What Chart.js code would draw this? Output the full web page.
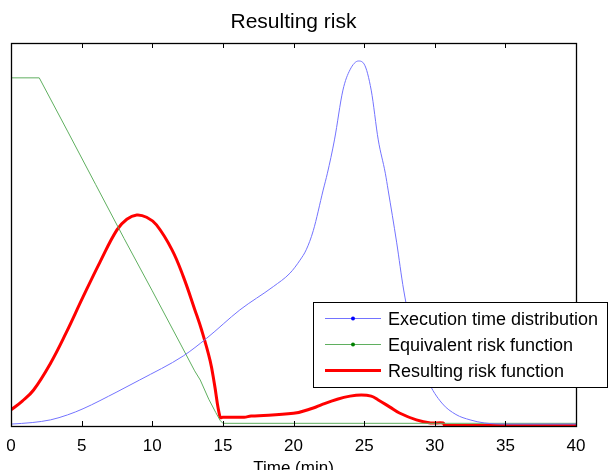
<!DOCTYPE html>
<html>
<head>
<meta charset="utf-8">
<script src="https://cdn.jsdelivr.net/npm/chart.js@4/dist/chart.umd.min.js"></script>
<style>
html, body { margin: 0; padding: 0; background: #fff; }
</style>
</head>
<body>
<canvas id="riskChart" width="609" height="470"></canvas>
<script>
// values (time in min, y on a 0..1 scale)
const blueTime = [0, 1.5, 2.8, 4, 5.1, 7.5, 9.1, 12.2, 13.85, 16.2, 18.57, 19.75, 20.46, 20.9, 21.4, 22.1, 22.4, 22.9, 23.5, 24, 24.6, 25, 25.5, 26, 26.5, 26.7, 27.3, 27.8, 28.5, 29.5, 30.5, 31.5, 32.5, 33.5, 35, 40]
const blueValues = [0.005, 0.009, 0.016, 0.029, 0.045, 0.089, 0.12, 0.183, 0.229, 0.303, 0.364, 0.399, 0.433, 0.46, 0.51, 0.616, 0.66, 0.747, 0.877, 0.93, 0.953, 0.945, 0.877, 0.747, 0.66, 0.616, 0.48, 0.355, 0.23, 0.12, 0.06, 0.03, 0.016, 0.008, 0.005, 0.005]

const greenTime = [0, 2, 4, 6, 8, 10, 12, 13, 13.4, 14, 14.5, 14.8, 15, 40]
const greenValues = [0.909, 0.909, 0.77, 0.63, 0.49, 0.353, 0.214, 0.144, 0.12, 0.07, 0.035, 0.015, 0.007, 0.007]

const redTime = [0, 0.8, 1.6, 2.8, 3.9, 5.1, 6.3, 7.5, 8.2, 8.9, 9.6, 10.3, 11.4, 12.2, 13, 13.5, 14.1, 14.4, 14.8, 15, 16.5, 17, 20, 21.4, 22, 23.1, 24, 24.8, 25.5, 26, 26.8, 27.5, 28.7, 29.7, 30.6, 30.7, 40]
const redValues = [0.042, 0.065, 0.094, 0.164, 0.243, 0.337, 0.428, 0.512, 0.540, 0.551, 0.545, 0.525, 0.46, 0.39, 0.305, 0.25, 0.17, 0.11, 0.023, 0.023, 0.023, 0.026, 0.033, 0.047, 0.056, 0.070, 0.078, 0.081, 0.078, 0.068, 0.05, 0.034, 0.016, 0.008, 0.008, 0.002, 0.002]

const xTicks = [0, 5, 10, 15, 20, 25, 30, 35, 40]

const toPoints = (xs, ys) => xs.map((x, i) => ({ x: x, y: ys[i] }))

const FONT = "'Liberation Sans', Arial, sans-serif"

// box around the plot with the small inward ticks
const axesBox = {
    id: 'axesBox',
    afterDatasetsDraw(chart) {
        const { ctx, chartArea: a, scales: { x } } = chart
        ctx.save()
        ctx.strokeStyle = '#000'
        ctx.lineWidth = 1.3
        ctx.strokeRect(a.left + 0.5, a.top + 0.5, a.right - a.left, a.bottom - a.top)
        ctx.lineWidth = 1
        xTicks.forEach(t => {
            const px = Math.round(x.getPixelForValue(t)) + 0.5
            ctx.beginPath()
            ctx.moveTo(px, a.top)
            ctx.lineTo(px, a.top + 5)
            ctx.moveTo(px, a.bottom)
            ctx.lineTo(px, a.bottom - 5)
            ctx.stroke()
        })
        ctx.restore()
    }
}

// matlab style legend box in the lower right corner
const boxLegend = {
    id: 'boxLegend',
    afterDraw(chart) {
        const { ctx, chartArea: a } = chart
        const x0 = a.right - 263
        const y0 = a.bottom - 124
        const w = 294
        const h = 85
        ctx.save()
        ctx.fillStyle = '#fff'
        ctx.fillRect(x0, y0, w, h)
        ctx.strokeStyle = '#000'
        ctx.lineWidth = 1
        ctx.strokeRect(x0 + 0.5, y0 + 0.5, w, h)
        ctx.font = '18px ' + FONT
        ctx.textBaseline = 'middle'
        chart.data.datasets.forEach((ds, i) => {
            const yy = y0 + 16 + i * 26
            ctx.strokeStyle = ds.borderColor
            ctx.lineWidth = ds.borderWidth
            ctx.beginPath()
            ctx.moveTo(x0 + 12, yy + 0.5)
            ctx.lineTo(x0 + 68, yy + 0.5)
            ctx.stroke()
            if (ds.markerColor) {
                ctx.fillStyle = ds.markerColor
                ctx.beginPath()
                ctx.arc(x0 + 40, yy + 0.5, 2, 0, Math.PI * 2)
                ctx.fill()
            }
            ctx.fillStyle = '#000'
            ctx.fillText(ds.label, x0 + 75, yy + 2)
        })
        ctx.restore()
    }
}

const ctx_risk = document.getElementById('riskChart').getContext('2d')
const riskChart = new Chart(ctx_risk, {
    type: 'line',
    data: {
        datasets: [
            {
                label: 'Execution time distribution',
                data: toPoints(blueTime, blueValues),
                borderColor: 'rgb(115, 115, 255)',
                markerColor: '#0000ff',
                borderWidth: 1,
                pointRadius: 0,
                cubicInterpolationMode: 'monotone'
            },
            {
                label: 'Equivalent risk function',
                data: toPoints(greenTime, greenValues),
                borderColor: 'rgb(95, 175, 95)',
                markerColor: '#008000',
                borderWidth: 1,
                pointRadius: 0,
                tension: 0
            },
            {
                label: 'Resulting risk function',
                data: toPoints(redTime, redValues),
                borderColor: '#ff0000',
                borderWidth: 3,
                pointRadius: 0,
                tension: 0.4
            }
        ]
    },
    options: {
        responsive: false,
        animation: false,
        layout: { padding: { left: 11, right: 33, top: 0, bottom: 0 } },
        plugins: {
            legend: { display: false },
            tooltip: { enabled: false },
            title: {
                display: true,
                text: 'Resulting risk',
                color: '#000',
                font: { family: FONT, size: 21, weight: 'normal' },
                padding: { top: 9.9, bottom: 7.9 }
            }
        },
        scales: {
            x: {
                type: 'linear',
                min: 0,
                max: 40,
                afterBuildTicks: scale => { scale.ticks = xTicks.map(v => ({ value: v })) },
                afterFit: scale => {
                    scale.height = 44
                    scale.paddingLeft = 0
                    scale.paddingRight = 0
                },
                grid: { display: false, drawTicks: false },
                border: { display: false },
                ticks: {
                    color: '#000',
                    padding: 10,
                    maxRotation: 0,
                    font: { family: FONT, size: 17 }
                },
                title: {
                    display: true,
                    text: 'Time (min)',
                    color: '#000',
                    font: { family: FONT, size: 17 },
                    padding: { top: 0, bottom: -9 }
                }
            },
            y: {
                display: false,
                min: 0,
                max: 1
            }
        }
    },
    plugins: [axesBox, boxLegend]
})
</script>
</body>
</html>
